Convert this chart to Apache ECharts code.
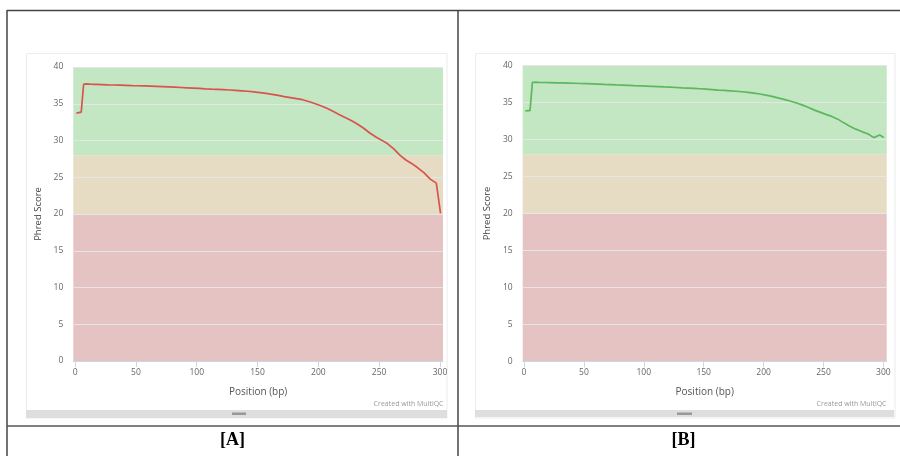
<!DOCTYPE html>
<html>
<head>
<meta charset="utf-8">
<script src="https://cdn.jsdelivr.net/npm/echarts@6/dist/echarts.min.js"></script>
<style>
html,body{margin:0;padding:0;background:#fff;}
#chart{width:900px;height:456px;}
</style>
</head>
<body>
<div id="chart"></div>
<script>
// Positions (bp) of FastQC groups (group midpoints)
const positions = [1,2,3,4,5,6,7,8,9,12,17,22,27,32,37,42,47,52,57,62,67,72,77,82,87,92,97,102,107,112,117,122,127,132,137,142,147,152,157,162,167,172,177,182,187,192,197,202,207,212,217,222,227,232,237,242,247,252,257,262,267,272,277,282,287,292,297,300.5];

// Panel A mean quality
const qualityA = [33.7,33.8,33.8,33.8,33.85,33.9,37.65,37.7,37.7,
  37.66,37.63,37.6,37.57,37.55,37.53,37.5,37.47,37.45,37.42,
  37.39,37.36,37.33,37.29,37.25,37.21,37.17,37.13,37.08,37.03,
  36.99,36.96,36.92,36.87,36.82,36.76,36.7,36.62,36.52,36.4,
  36.27,36.13,35.98,35.84,35.7,35.55,35.3,35.03,34.73,34.38,
  33.98,33.55,33.13,32.72,32.25,31.7,31.05,30.5,30.05,29.55,
  28.85,28.0,27.35,26.85,26.25,25.6,24.75,24.2,
  20.1];

// Panel B mean quality
const qualityB = [33.85,33.85,33.9,33.9,33.9,33.9,37.72,37.74,37.74,
  37.72,37.7,37.68,37.66,37.64,37.62,37.6,37.57,37.55,37.52,
  37.49,37.45,37.42,37.38,37.35,37.32,37.28,37.25,37.22,37.18,
  37.14,37.1,37.07,37.03,36.98,36.94,36.9,36.86,36.8,36.74,
  36.68,36.63,36.58,36.52,36.45,36.37,36.27,36.15,36.0,35.82,
  35.62,35.42,35.2,34.96,34.68,34.35,34.0,33.7,33.4,33.12,
  32.75,32.25,31.8,31.4,31.07,30.78,30.25,30.6,
  30.25];

const xTicks = [0,50,100,150,200,250,300];
const bands = [
  {from:0, to:20, color:'#e6c3c3'},
  {from:20, to:28, color:'#e6dcc3'},
  {from:28, to:40, color:'#c3e6c3'}
];
const panelLabels = ['[A]','[B]'];
const xTitle = 'Position (bp)';
const yTitle = 'Phred Score';
const credit = 'Created with MultiQC';

const FONT = 'Open Sans';
const chart = echarts.init(document.getElementById('chart'), null, {renderer:'canvas'});

function zipData(vals){ return positions.map((p,i)=>[p, vals[i]]); }

function xAxisDef(gi, min, max){
  return {
    type:'value', gridIndex:gi, min:min, max:max, z:2,
    name:xTitle, nameLocation:'middle', nameGap:26,
    nameTextStyle:{color:'#555', fontSize:10, fontFamily:FONT},
    axisLine:{show:true, lineStyle:{color:'#ccd6eb', width:1}},
    axisTick:{show:true, customValues:xTicks, length:6, lineStyle:{color:'#ccd6eb'}},
    axisLabel:{show:true, customValues:xTicks, color:'#666', fontSize:8.5, fontFamily:FONT, margin:7},
    splitLine:{show:false}
  };
}
function yAxisDef(gi){
  return {
    type:'value', gridIndex:gi, min:0, max:40, interval:5, z:2,
    name:yTitle, nameLocation:'middle', nameGap:30, nameRotate:90,
    nameTextStyle:{color:'#444', fontSize:9.5, fontFamily:FONT},
    axisLine:{show:false}, axisTick:{show:false},
    axisLabel:{color:'#666', fontSize:8.5, fontFamily:FONT, margin:10},
    splitLine:{show:true, lineStyle:{color:'#e6e6e6', width:1}}
  };
}
function bandArea(){
  return {
    silent:true, z:1,
    data: bands.map(b=>[{yAxis:b.from, itemStyle:{color:b.color, opacity:1}},{yAxis:b.to}])
  };
}

const line = (color)=>({color:color, width:1.7});

const option = {
  animation:false,
  grid:[
    {left:73.3, right:457, top:67, bottom:95, containLabel:false},
    {left:522.7, right:13.3, top:65.5, bottom:94.5, containLabel:false}
  ],
  xAxis:[xAxisDef(0,-1.5,302.5), xAxisDef(1,-1.1,302.8)],
  yAxis:[yAxisDef(0), yAxisDef(1)],
  series:[
    {type:'line', xAxisIndex:0, yAxisIndex:0, z:3, data:zipData(qualityA), showSymbol:false, symbol:'none',
     lineStyle:line('#d9534f'), itemStyle:{color:'#d9534f'}, markArea:bandArea()},
    {type:'line', xAxisIndex:1, yAxisIndex:1, z:3, data:zipData(qualityB), showSymbol:false, symbol:'none',
     lineStyle:line('#5cb85c'), itemStyle:{color:'#5cb85c'}, markArea:bandArea()}
  ],
  graphic:[
    // chart container frames
    {type:'rect', shape:{x:26.5, y:53.5, width:420.5, height:364.5}, style:{fill:'none', stroke:'#ececec', lineWidth:1}, z:-10, silent:true},
    {type:'rect', shape:{x:475.5, y:53.5, width:419.5, height:364.5}, style:{fill:'none', stroke:'#ececec', lineWidth:1}, z:-10, silent:true},
    // scroll bars
    {type:'rect', shape:{x:26, y:410, width:421, height:8}, style:{fill:'#dedede'}, silent:true},
    {type:'rect', shape:{x:232, y:412.5, width:14, height:2.5}, style:{fill:'#999'}, silent:true},
    {type:'rect', shape:{x:475, y:410, width:419, height:7}, style:{fill:'#dedede'}, silent:true},
    {type:'rect', shape:{x:677, y:412.5, width:15, height:2.5}, style:{fill:'#999'}, silent:true},
    // credits
    {type:'text', x:443.5, y:404, style:{text:credit, fill:'#999', font:'7px "Open Sans"', align:'right', verticalAlign:'middle'}, silent:true},
    {type:'text', x:886.5, y:404, style:{text:credit, fill:'#999', font:'7px "Open Sans"', align:'right', verticalAlign:'middle'}, silent:true},
    // table borders
    {type:'line', shape:{x1:7, y1:10.5, x2:900, y2:10.5}, style:{stroke:'#444', lineWidth:1.5}, silent:true},
    {type:'line', shape:{x1:7, y1:10, x2:7, y2:456}, style:{stroke:'#444', lineWidth:1.5}, silent:true},
    {type:'line', shape:{x1:458, y1:10, x2:458, y2:456}, style:{stroke:'#444', lineWidth:1.5}, silent:true},
    {type:'line', shape:{x1:7, y1:426, x2:900, y2:426}, style:{stroke:'#555', lineWidth:1.5}, silent:true},
    // panel labels
    {type:'text', x:232.5, y:440, style:{text:panelLabels[0], fill:'#000', font:'bold 18px "Liberation Serif"', align:'center', verticalAlign:'middle'}, silent:true},
    {type:'text', x:683.5, y:440, style:{text:panelLabels[1], fill:'#000', font:'bold 18px "Liberation Serif"', align:'center', verticalAlign:'middle'}, silent:true}
  ]
};
chart.setOption(option);
</script>
</body>
</html>
